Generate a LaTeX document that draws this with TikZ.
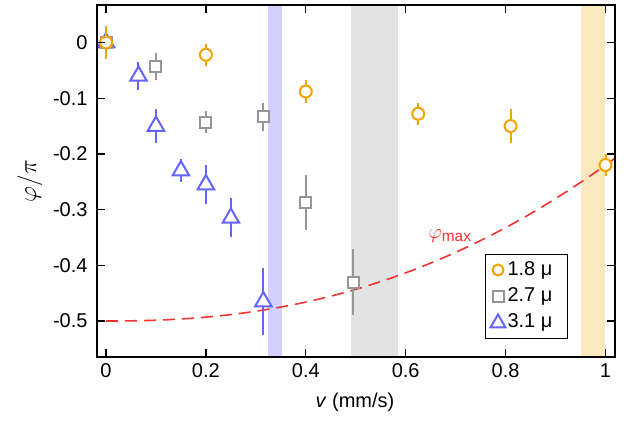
\documentclass[tikz,border=0pt]{standalone}
\usepackage{fontspec}
\setmainfont{Liberation Sans}
\usetikzlibrary{shapes.geometric}
\definecolor{cor}{RGB}{245,163,0}
\definecolor{cgr}{RGB}{150,150,150}
\definecolor{cbl}{RGB}{100,100,255}
\definecolor{cred}{RGB}{245,50,50}
\begin{document}
\begin{tikzpicture}[x=1pt,y=-1pt,
  declare function={X(\v)=106+499.5*\v; Y(\p)=42.5-557*\p;},
  circ/.style={circle,draw=cor,line width=2pt,fill=white,minimum size=12pt,inner sep=0pt},
  sq/.style={rectangle,draw=cgr,line width=2pt,fill=white,minimum size=11pt,inner sep=0pt},
  tri/.style={regular polygon,regular polygon sides=3,draw=cbl,line width=2pt,fill=white,minimum size=19pt,inner sep=0pt},
  lab/.style={font=\fontsize{20}{24}\selectfont}]
\useasboundingbox (0,0) rectangle (626,421);
% bands
\fill[cbl!30] ({X(0.325)},5) rectangle ({X(0.352)},357);
\fill[black!11] ({X(0.49)},5) rectangle ({X(0.584)},357);
\fill[cor!25] ({X(0.95)},5) rectangle ({X(0.998)},357);
% curve
\draw[cred,line width=1.6pt,dash pattern=on 12pt off 7pt] plot[domain=0:1.02,samples=60] ({X(\x)},{Y(-0.5+0.28*\x^2.3)});
\node[text=cred,font=\fontsize{22}{24}\selectfont] at (450,236) {$\varphi_{\max}$};
% blue triangles
\foreach \v/\p/\e in {0/0/0, 0.065/-0.06/0.025, 0.1/-0.15/0.03, 0.15/-0.23/0.02, 0.2/-0.255/0.035, 0.25/-0.315/0.035, 0.315/-0.465/0.06}{
  \draw[cbl,line width=2pt] ({X(\v)},{Y(\p+\e)}) -- ({X(\v)},{Y(\p-\e)});
  \node[tri] at ({X(\v)},{Y(\p)}) {};}
% gray squares
\foreach \v/\p/\e in {0/0/0, 0.1/-0.043/0.025, 0.2/-0.143/0.02, 0.315/-0.133/0.025, 0.4/-0.287/0.05, 0.495/-0.43/0.06}{
  \draw[cgr,line width=2pt] ({X(\v)},{Y(\p+\e)}) -- ({X(\v)},{Y(\p-\e)});
  \node[sq] at ({X(\v)},{Y(\p)}) {};}
% orange circles
\foreach \v/\p/\e in {0/0/0.03, 0.2/-0.022/0.02, 0.4/-0.088/0.02, 0.625/-0.128/0.02, 0.81/-0.15/0.03, 1/-0.22/0.02}{
  \draw[cor,line width=2pt] ({X(\v)},{Y(\p+\e)}) -- ({X(\v)},{Y(\p-\e)});
  \node[circ] at ({X(\v)},{Y(\p)}) {};}
% axes
\draw[line width=1.3pt] (97,5) rectangle (615,357);
\foreach \v/\t in {0/0,0.2/0.2,0.4/0.4,0.6/0.6,0.8/0.8,1/1}{
  \draw[line width=1.3pt] ({X(\v)},357) -- ({X(\v)},349) ({X(\v)},5) -- ({X(\v)},13);
  \node[lab,anchor=north] at ({X(\v)},360) {\t};}
\foreach \p/\t in {0/0,-0.1/-0.1,-0.2/-0.2,-0.3/-0.3,-0.4/-0.4,-0.5/-0.5}{
  \draw[line width=1.3pt] (97,{Y(\p)}) -- (105,{Y(\p)}) (615,{Y(\p)}) -- (607,{Y(\p)});
  \node[lab,anchor=east] at (91,{Y(\p)}) {\t};}
\node[font=\fontsize{24}{26}\selectfont,rotate=90] at (30,181) {$\varphi/\pi$};
\node[lab] at (355,402) {\textit{v} (mm/s)};
% legend
\draw[line width=1pt,fill=white] (485,254) rectangle (567,338);
\node[circ,minimum size=11pt] at (498,270) {};
\node[sq,minimum size=11pt] at (498,296) {};
\node[tri,minimum size=17pt] at (498,323) {};
\node[lab,anchor=west] at (504,270) {1.8 μ};
\node[lab,anchor=west] at (504,296) {2.7 μ};
\node[lab,anchor=west] at (504,322) {3.1 μ};
\end{tikzpicture}
\end{document}
